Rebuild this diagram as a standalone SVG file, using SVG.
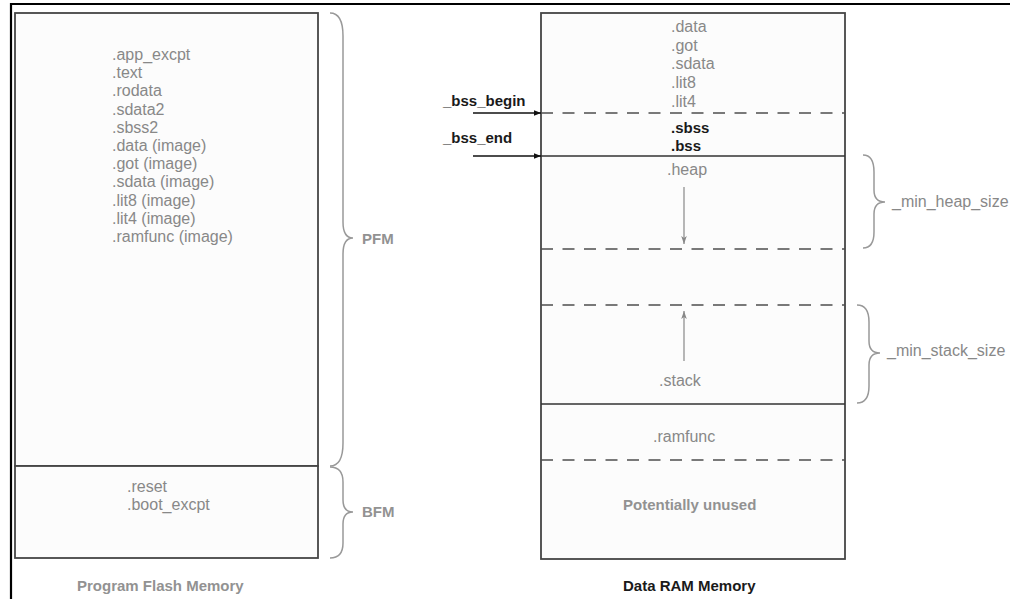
<svg xmlns="http://www.w3.org/2000/svg" width="1010" height="599" viewBox="0 0 1010 599">
  <defs>
    <marker id="ah-black" viewBox="0 0 10 10" refX="10" refY="5" markerWidth="7" markerHeight="7" markerUnits="userSpaceOnUse" orient="auto">
      <path d="M0,1 L10,5 L0,9 Z" fill="#111"/>
    </marker>
    <marker id="ah-gray" viewBox="0 0 10 10" refX="10" refY="5" markerWidth="8" markerHeight="8" markerUnits="userSpaceOnUse" orient="auto">
      <path d="M0,1.5 L10,5 L0,8.5 L2.5,5 Z" fill="#888"/>
    </marker>
    <style>
      .box { fill: #fcfcfc; stroke: #454545; stroke-width: 1.8; }
      .solid { stroke: #333; stroke-width: 1.7; fill: none; }
      .dash { stroke: #4d4d4d; stroke-width: 1.7; stroke-dasharray: 12 9.5; fill: none; }
      .brace { stroke: #999; stroke-width: 1.5; fill: none; }
      .lbl { font-family: "Liberation Sans", Arial, sans-serif; font-size: 16px; fill: #888; }
      .gbold { font-family: "Liberation Sans", Arial, sans-serif; font-size: 15px; font-weight: bold; fill: #929292; }
      .kbold { font-family: "Liberation Sans", Arial, sans-serif; font-size: 15px; font-weight: bold; fill: #1a1a1a; }
      .frame { stroke: #000; stroke-width: 2.2; fill: none; }
    </style>
  </defs>

  <rect width="1010" height="599" fill="#ffffff"/>

  <!-- page frame edges -->
  <path class="frame" d="M11,599 L11,4 L1010,4"/>

  <!-- Program Flash Memory -->
  <g id="pfm-app">
    <rect class="box" x="15" y="13" width="303" height="453"/>
    <text class="lbl" x="112" y="60">.app_excpt</text>
    <text class="lbl" x="112" y="78.2">.text</text>
    <text class="lbl" x="112" y="96.4">.rodata</text>
    <text class="lbl" x="112" y="114.6">.sdata2</text>
    <text class="lbl" x="112" y="132.8">.sbss2</text>
    <text class="lbl" x="112" y="151">.data (image)</text>
    <text class="lbl" x="112" y="169.2">.got (image)</text>
    <text class="lbl" x="112" y="187.4">.sdata (image)</text>
    <text class="lbl" x="112" y="205.6">.lit8 (image)</text>
    <text class="lbl" x="112" y="223.8">.lit4 (image)</text>
    <text class="lbl" x="112" y="242">.ramfunc (image)</text>
  </g>
  <g id="pfm-boot">
    <rect class="box" x="15" y="466" width="303" height="92"/>
    <text class="lbl" x="127" y="491.5">.reset</text>
    <text class="lbl" x="127" y="509.5">.boot_excpt</text>
  </g>
  <g id="pfm-braces">
    <path class="brace" d="M330,13 Q343,13 343,36 L343,222 Q343,238 353,238 Q343,238 343,254 L343,443 Q343,466 330,466"/>
    <text class="gbold" x="362" y="243.5">PFM</text>
    <path class="brace" d="M330,467 Q343,467 343,482 L343,500 Q343,512 353,512 Q343,512 343,524 L343,543 Q343,558 330,558"/>
    <text class="gbold" x="362" y="517">BFM</text>
  </g>
  <text id="pfm-title" class="gbold" x="77" y="591">Program Flash Memory</text>

  <!-- Data RAM Memory -->
  <g id="ram">
    <rect class="box" x="541" y="13" width="304" height="546" fill="#ffffff"/>
    <line class="dash" x1="541" y1="113" x2="845" y2="113"/>
    <line class="solid" x1="541" y1="156" x2="845" y2="156"/>
    <line class="dash" x1="541" y1="249" x2="845" y2="249"/>
    <line class="dash" x1="541" y1="305" x2="845" y2="305"/>
    <line class="solid" x1="541" y1="404" x2="845" y2="404"/>
    <line class="dash" x1="541" y1="460" x2="845" y2="460"/>
  </g>
  <g id="ram-data">
    <text class="lbl" x="671" y="32">.data</text>
    <text class="lbl" x="671" y="50.7">.got</text>
    <text class="lbl" x="671" y="69.4">.sdata</text>
    <text class="lbl" x="671" y="88.1">.lit8</text>
    <text class="lbl" x="671" y="106.8">.lit4</text>
  </g>
  <g id="ram-bss">
    <text class="kbold" x="671" y="132.5">.sbss</text>
    <text class="kbold" x="671" y="150.5">.bss</text>
  </g>
  <g id="ram-heap">
    <text class="lbl" x="667" y="174.5">.heap</text>
  </g>
  <g id="ram-stack">
    <text class="lbl" x="659" y="386">.stack</text>
  </g>
  <g id="ram-ramfunc">
    <text class="lbl" x="653" y="442">.ramfunc</text>
  </g>
  <g id="ram-unused">
    <text class="gbold" x="623" y="510">Potentially unused</text>
  </g>
  <text id="ram-title" class="kbold" x="623" y="591">Data RAM Memory</text>

  <g id="bss-symbols">
    <text class="kbold" x="443" y="106">_bss_begin</text>
    <text class="kbold" x="443" y="143">_bss_end</text>
  </g>

  <g id="ram-braces">
    <path class="brace" d="M863,155 Q874,155 874,172 L874,190 Q874,202 885,202 Q874,202 874,214 L874,232 Q874,248 863,248"/>
    <text class="lbl" x="892" y="207">_min_heap_size</text>
    <path class="brace" d="M857,305 Q869,305 869,322 L869,341 Q869,353 880,353 Q869,353 869,365 L869,386 Q869,403 857,403"/>
    <text class="lbl" x="887" y="356">_min_stack_size</text>
  </g>

  <!-- connectors -->
  <g id="connectors">
    <line x1="473" y1="113" x2="541" y2="113" stroke="#111" stroke-width="1.5" marker-end="url(#ah-black)"/>
    <line x1="473" y1="156" x2="541" y2="156" stroke="#111" stroke-width="1.5" marker-end="url(#ah-black)"/>
    <line x1="684" y1="187" x2="684" y2="244" stroke="#888" stroke-width="1.2" marker-end="url(#ah-gray)"/>
    <line x1="684" y1="361" x2="684" y2="311" stroke="#888" stroke-width="1.2" marker-end="url(#ah-gray)"/>
  </g>
</svg>
